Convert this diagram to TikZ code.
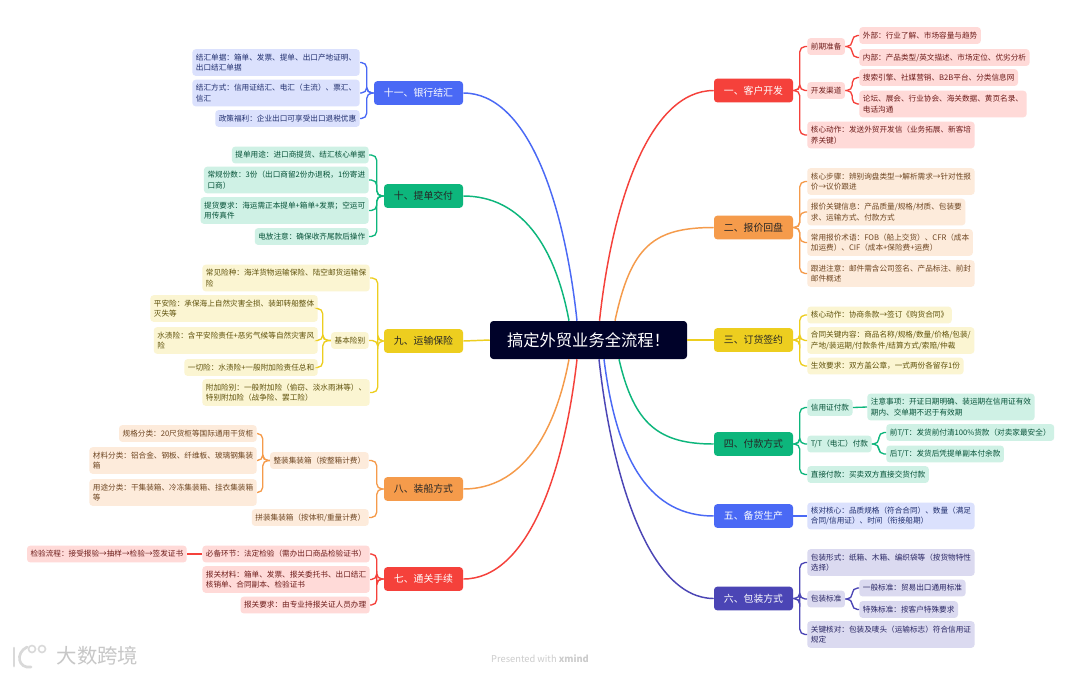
\documentclass[tikz,border=0pt]{standalone}
\usepackage{fontspec}
\usepackage{xcolor}
\setmainfont{Noto Sans CJK SC}
\usetikzlibrary{calc}
\definecolor{rootc}{HTML}{000229}
\definecolor{redc}{HTML}{F5413B}
\definecolor{orangec}{HTML}{F59B4B}
\definecolor{yellowc}{HTML}{EDCE1F}
\definecolor{greenc}{HTML}{0DB67C}
\definecolor{bluec}{HTML}{4A69F5}
\definecolor{indigoc}{HTML}{4B45B5}
\definecolor{redl}{HTML}{FFDAD8}
\definecolor{orangel}{HTML}{FDEBDB}
\definecolor{yellowl}{HTML}{FBF5D2}
\definecolor{greenl}{HTML}{CFF1E5}
\definecolor{bluel}{HTML}{DBE1FD}
\definecolor{indigol}{HTML}{DBDAF0}
\tikzset{
    root/.style={fill=rootc, text=white, rounded corners=2.5pt, minimum width=147.75pt, minimum height=28.5pt, font=\fontsize{12.2pt}{14pt}\selectfont},
    branch/.style={rounded corners=2.5pt, minimum width=59.25pt, minimum height=17.8pt, font=\fontsize{7.4pt}{9pt}\selectfont},
    leaf/.style={rounded corners=2.5pt, inner xsep=2.7pt, inner ysep=0pt, minimum height=12.6pt, align=left, font=\fontsize{5.72pt}{7.7pt}\selectfont},
    two/.style={minimum height=20pt},
    rb/.style={branch, fill=redc, text=white},
    ob/.style={branch, fill=orangec, text=black!85},
    yb/.style={branch, fill=yellowc, text=black!85},
    gb/.style={branch, fill=greenc, text=black!85},
    bb/.style={branch, fill=bluec, text=white},
    ib/.style={branch, fill=indigoc, text=white},
    rl/.style={leaf, fill=redl, text=redc!45!black},
    ol/.style={leaf, fill=orangel, text=orangec!45!black},
    yl/.style={leaf, fill=yellowl, text=yellowc!40!black},
    gl/.style={leaf, fill=greenl, text=greenc!45!black},
    bl/.style={leaf, fill=bluel, text=bluec!45!black},
    il/.style={leaf, fill=indigol, text=indigoc!55!black},
    main/.style={line width=1.1pt, draw=#1},
    sub/.style={line width=1pt, draw=#1, rounded corners=4pt},
    wm/.style={line width=2pt, draw=black!15, line cap=round}
}
\begin{document}
\begin{tikzpicture}[x=0.75pt, y=-0.75pt]
    \useasboundingbox (0,0) rectangle (1080,676);
    \fill[white] (0,0) rectangle (1080,676);

    \node[root] (root) at (588.5,340) {搞定外贸业务全流程！};

    \node[rb] (b1) at (753.5,90.5) {一、客户开发};
    \node[ob] (b2) at (753.5,227.5) {二、报价回盘};
    \node[yb] (b3) at (753.5,340) {三、订货签约};
    \node[gb] (b4) at (753.5,444) {四、付款方式};
    \node[bb] (b5) at (753.5,516) {五、备货生产};
    \node[ib] (b6) at (753.5,598.5) {六、包装方式};
    \node[rb] (b7) at (423.5,579) {七、通关手续};
    \node[ob] (b8) at (423.5,489) {八、装船方式};
    \node[yb] (b9) at (423.5,341) {九、运输保险};
    \node[gb] (b10) at (423.5,196) {十、提单交付};
    \node[bb, minimum width=66.75pt] (b11) at (418.5,93) {十一、银行结汇};

    \node[rl, anchor=west] (a1) at (807,46.5) {前期准备};
    \node[rl, anchor=west] (a11) at (859,35.5) {外部：行业了解、市场容量与趋势};
    \node[rl, anchor=west] (a12) at (859,57.5) {内部：产品类型/英文描述、市场定位、优劣分析};
    \node[rl, anchor=west] (a2) at (807,90.5) {开发渠道};
    \node[rl, anchor=west] (a21) at (859,77.5) {搜索引擎、社媒营销、B2B平台、分类信息网};
    \node[rl, two, anchor=west] (a22) at (859,104) {论坛、展会、行业协会、海关数据、黄页名录、\\电话沟通};
    \node[rl, two, anchor=west] (a3) at (807,135) {核心动作：发送外贸开发信（业务拓展、新客培\\养关键）};

    \node[ol, two, anchor=west] (c1) at (807,181.5) {核心步骤：辨别询盘类型→解析需求→针对性报\\价→议价跟进};
    \node[ol, two, anchor=west] (c2) at (807,212) {报价关键信息：产品质量/规格/材质、包装要\\求、运输方式、付款方式};
    \node[ol, two, anchor=west] (c3) at (807,242.5) {常用报价术语：FOB（船上交货）、CFR（成本\\加运费）、CIF（成本+保险费+运费）};
    \node[ol, two, anchor=west] (c4) at (807,273.5) {跟进注意：邮件需含公司签名、产品标注、前封\\邮件概述};

    \node[yl, anchor=west] (d1) at (807,315) {核心动作：协商条款→签订《购货合同》};
    \node[yl, two, anchor=west] (d2) at (807,340.5) {合同关键内容：商品名称/规格/数量/价格/包装/\\产地/装运期/付款条件/结算方式/索赔/仲裁};
    \node[yl, anchor=west] (d3) at (807,366) {生效要求：双方盖公章，一式两份各留存1份};

    \node[gl, anchor=west] (e1) at (807,407.5) {信用证付款};
    \node[gl, two, anchor=west] (e11) at (867,407) {注意事项：开证日期明确、装运期在信用证有效\\期内、交单期不迟于有效期};
    \node[gl, anchor=west] (e2) at (807,444) {T/T（电汇）付款};
    \node[gl, anchor=west] (e21) at (886,432.5) {前T/T：发货前付清100\%货款（对卖家最安全）};
    \node[gl, anchor=west] (e22) at (886,454) {后T/T：发货后凭提单副本付余款};
    \node[gl, anchor=west] (e3) at (807,474.5) {直接付款：买卖双方直接交货付款};

    \node[bl, two, anchor=west] (f1) at (807,516) {核对核心：品质规格（符合合同）、数量（满足\\合同/信用证）、时间（衔接船期）};

    \node[il, two, anchor=west] (g1) at (807,562.5) {包装形式：纸箱、木箱、编织袋等（按货物特性\\选择）};
    \node[il, anchor=west] (g2) at (807,599) {包装标准};
    \node[il, anchor=west] (g21) at (859,588) {一般标准：贸易出口通用标准};
    \node[il, anchor=west] (g22) at (859,609.5) {特殊标准：按客户特殊要求};
    \node[il, two, anchor=west] (g3) at (807,634.5) {关键核对：包装及唛头（运输标志）符合信用证\\规定};

    \node[rl, anchor=east] (h1) at (370,554) {必备环节：法定检验（需办出口商品检验证书）};
    \node[rl, anchor=east] (h11) at (187,554) {检验流程：接受报验→抽样→检验→签发证书};
    \node[rl, two, anchor=east] (h2) at (370,579.5) {报关材料：箱单、发票、报关委托书、出口结汇\\核销单、合同副本、检验证书};
    \node[rl, anchor=east] (h3) at (370,605) {报关要求：由专业持报关证人员办理};

    \node[ol, anchor=east] (i1) at (369,460.5) {整装集装箱（按整箱计费）};
    \node[ol, anchor=east] (i11) at (257,433.5) {规格分类：20尺货柜等国际通用干货柜};
    \node[ol, two, anchor=east] (i12) at (257,460.5) {材料分类：铝合金、钢板、纤维板、玻璃钢集装\\箱};
    \node[ol, two, anchor=east] (i13) at (257,492.5) {用途分类：干集装箱、冷冻集装箱、挂衣集装箱\\等};
    \node[ol, anchor=east] (i2) at (369,517.5) {拼装集装箱（按体积/重量计费）};

    \node[yl, two, anchor=east] (j1) at (370,278) {常见险种：海洋货物运输保险、陆空邮货运输保\\险};
    \node[yl, anchor=east] (j2) at (369,340.5) {基本险别};
    \node[yl, two, anchor=east] (j21) at (318,308.5) {平安险：承保海上自然灾害全损、装卸转船整体\\灭失等};
    \node[yl, two, anchor=east] (j22) at (318,340.5) {水渍险：含平安险责任+恶劣气候等自然灾害风\\险};
    \node[yl, anchor=east] (j23) at (318,367.5) {一切险：水渍险+一般附加险责任总和};
    \node[yl, two, anchor=east] (j3) at (370,392.5) {附加险别：一般附加险（偷窃、淡水雨淋等）、\\特别附加险（战争险、罢工险）};

    \node[gl, anchor=east] (k1) at (369,155) {提单用途：进口商提货、结汇核心单据};
    \node[gl, two, anchor=east] (k2) at (369,180) {常规份数：3份（出口商留2份办退税，1份寄进\\口商）};
    \node[gl, two, anchor=east] (k3) at (369,210.5) {提货要求：海运需正本提单+箱单+发票；空运可\\用传真件};
    \node[gl, anchor=east] (k4) at (369,236.5) {电放注意：确保收齐尾款后操作};

    \node[bl, two, anchor=east] (m1) at (360,62.5) {结汇单据：箱单、发票、提单、出口产地证明、\\出口结汇单据};
    \node[bl, two, anchor=east] (m2) at (360,93) {结汇方式：信用证结汇、电汇（主流）、票汇、\\信汇};
    \node[bl, anchor=east] (m3) at (360,118.5) {政策福利：企业出口可享受出口退税优惠};

    \draw[main=redc] ($(root.north)+(11,0)$) .. controls +(13,-120) and +(-64,0) .. (b1.west);
    \draw[main=orangec] ($(root.north)+(26.5,0)$) .. controls +(16,-75) and +(-60,0) .. (b2.west);
    \draw[main=yellowc] (root.east) -- (b3.west);
    \draw[main=greenc] ($(root.south)+(30.5,0)$) .. controls +(15,65) and +(-55,0) .. (b4.west);
    \draw[main=bluec] ($(root.south)+(15.5,0)$) .. controls +(13,105) and +(-62,0) .. (b5.west);
    \draw[main=indigoc] ($(root.south)+(10.5,0)$) .. controls +(13,120) and +(-64,0) .. (b6.west);
    \draw[main=redc] ($(root.south)+(-11.5,0)$) .. controls +(-13,115) and +(64,0) .. (b7.east);
    \draw[main=orangec] ($(root.south)+(-19.5,0)$) .. controls +(-14,75) and +(58,0) .. (b8.east);
    \draw[main=yellowc] (root.west) -- (b9.east);
    \draw[main=greenc] ($(root.north)+(-19.5,0)$) .. controls +(-14,-75) and +(58,0) .. (b10.east);
    \draw[main=bluec] ($(root.north)+(-11.5,0)$) .. controls +(-13,-120) and +(64,0) .. (b11.east);

    \foreach \kid in {a1,a2,a3} \draw[sub=redc] (b1.east) -- ++(6.5,0) |- (\kid.west);
    \foreach \kid in {a11,a12} \draw[sub=redc] (a1.east) -- ++(7,0) |- (\kid.west);
    \foreach \kid in {a21,a22} \draw[sub=redc] (a2.east) -- ++(7,0) |- (\kid.west);
    \foreach \kid in {c1,c2,c3,c4} \draw[sub=orangec] (b2.east) -- ++(6.5,0) |- (\kid.west);
    \foreach \kid in {d1,d2,d3} \draw[sub=yellowc] (b3.east) -- ++(6.5,0) |- (\kid.west);
    \foreach \kid in {e1,e2,e3} \draw[sub=greenc] (b4.east) -- ++(6.5,0) |- (\kid.west);
    \draw[sub=greenc] (e1.east) -- (e11.west);
    \foreach \kid in {e21,e22} \draw[sub=greenc] (e2.east) -- ++(7,0) |- (\kid.west);
    \draw[sub=bluec] (b5.east) -- (f1.west);
    \foreach \kid in {g1,g2,g3} \draw[sub=indigoc] (b6.east) -- ++(6.5,0) |- (\kid.west);
    \foreach \kid in {g21,g22} \draw[sub=indigoc] (g2.east) -- ++(7,0) |- (\kid.west);
    \foreach \kid in {h1,h2,h3} \draw[sub=redc] (b7.west) -- ++(-7,0) |- (\kid.east);
    \draw[sub=redc] (h1.west) -- (h11.east);
    \foreach \kid in {i1,i2} \draw[sub=orangec] (b8.west) -- ++(-7,0) |- (\kid.east);
    \foreach \kid in {i11,i12,i13} \draw[sub=orangec] (i1.west) -- ++(-7,0) |- (\kid.east);
    \foreach \kid in {j1,j2,j3} \draw[sub=yellowc] (b9.west) -- ++(-6,0) |- (\kid.east);
    \foreach \kid in {j21,j22,j23} \draw[sub=yellowc] (j2.west) -- ++(-8,0) |- (\kid.east);
    \foreach \kid in {k1,k2,k3,k4} \draw[sub=greenc] (b10.west) -- ++(-7,0) |- (\kid.east);
    \foreach \kid in {m1,m2,m3} \draw[sub=bluec] (b11.west) -- ++(-7,0) |- (\kid.east);

    \draw[wm] (14,648) -- (14,666);
    \draw[wm] (27,647) .. controls (15,653) and (18,669) .. (31,667);
    \draw[wm, line width=1.2pt] (32,649) circle (3.5);
    \draw[wm, line width=1.2pt] (42,649) circle (3.5);
    \node[font=\fontsize{15.3pt}{18pt}\selectfont, text=black!22] (mark) at (97.5,656) {大数跨境};
    \node[font=\fontsize{7pt}{8pt}\selectfont, text=black!20] (foot) at (540,659) {Presented with \textbf{xmind}};
\end{tikzpicture}
\end{document}
